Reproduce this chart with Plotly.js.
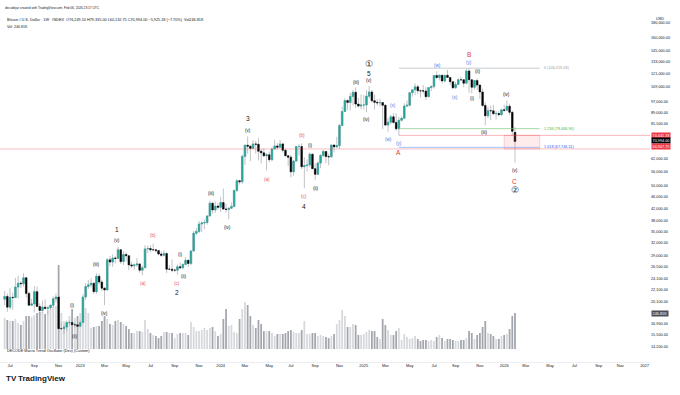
<!DOCTYPE html>
<html><head><meta charset="utf-8">
<script src="https://cdn.plot.ly/plotly-3.0.1.min.js"></script>
<style>html,body{margin:0;padding:0;background:#fff}#chart{width:680px;height:395px}</style>
</head><body><div id="chart"></div>
<script>
// ---------- DATA (prices in thousands USD, weekly bars starting Monday 2022-06-20) ----------
const startWeek = '2022-06-20';
const openK = [
 20.55,21.0,19.3,20.85,20.8,22.6,23.3,23.2,24.3,21.5,19.6,19.8,21.8,19.4,18.8,19.3,19.1,19.2,19.6,20.6,20.9,16.3,16.3,16.5,17.1,17.1,16.8,16.8,
 16.6,17.1,20.9,22.7,23.0,23.3,21.8,24.6,23.5,22.4,22.1,28.0,27.5,28.4,28.3,30.3,27.6,29.2,28.9,26.9,26.7,26.9,27.1,25.8,26.3,30.5,30.6,30.3,30.3,30.1,29.3,29.0,29.4,26.0,26.0,25.8,25.8,26.5,26.3,27.0,27.9,27.2,30.0,34.5,35.0,37.1,37.4,37.5,39.5,43.7,41.4,42.7,
 42.3,43.9,41.7,41.6,42.0,42.6,48.3,52.1,51.7,63.1,68.9,68.4,67.2,69.6,69.4,65.7,64.9,63.4,63.9,61.5,66.9,68.5,67.8,69.6,66.2,63.4,62.7,55.9,60.8,68.2,68.2,58.2,58.7,59.0,64.2,57.3,54.8,59.9,63.6,65.6,63.0,62.9,69.0,68.0,68.7,80.4,89.8,97.9,96.4,101.1,104.4,95.2,93.7,
 94.5,94.5,101.3,104.7,97.7,96.5,96.1,96.3,94.3,80.7,82.6,86.1,82.4,78.4,83.8,85.1,93.7,94.3,104.1,106.5,109.0,105.7,105.6,105.5,100.9,108.4,109.2,119.1,117.3,119.4,114.2,119.3,117.4,113.5,108.2,111.1,115.3,115.2,112.2,123.5,115.2,108.6,114.5,110.5,104.7,94.2,86.8,90.4,90.3,88.2,88.4,87.6,
 91.0,90.6,93.6,89.2,76.2491];
const highK = [
 21.9,21.5,22.4,21.6,24.3,24.7,23.7,25.2,24.5,21.8,20.6,22.8,22.7,19.9,20.3,20.5,19.5,19.7,21.0,21.5,21.1,17.2,16.8,17.4,17.4,18.4,17.0,16.9,
 17.4,21.4,23.3,23.9,24.2,23.4,25.2,25.1,23.9,22.6,28.4,28.9,29.2,28.8,31.0,30.5,30.0,29.8,28.9,27.6,27.2,28.4,27.3,26.8,31.4,31.3,31.4,31.8,30.4,30.3,29.9,30.2,29.7,26.8,28.1,26.1,27.0,27.4,27.2,28.6,28.0,30.2,35.2,35.9,38.0,37.9,38.4,39.8,44.5,43.9,44.3,43.6,
 45.9,49.0,43.5,42.2,43.9,48.5,52.8,52.5,64.0,69.2,73.8,68.9,71.7,71.3,72.8,66.9,67.3,64.7,65.5,67.7,71.9,70.0,71.9,70.2,66.9,63.8,63.8,61.3,68.4,69.4,70.0,62.7,61.6,65.0,64.5,59.8,60.7,64.1,66.5,65.7,64.5,69.4,69.5,73.6,81.5,93.4,99.6,98.7,104.0,106.5,108.4,99.9,102.7,
 102.3,106.2,109.4,106.4,102.5,98.8,99.5,96.5,95.0,85.3,87.5,88.8,88.5,86.1,86.5,95.8,97.9,104.3,106.7,112.0,110.7,106.8,110.6,108.9,108.5,110.5,119.5,123.2,120.2,119.8,119.4,124.5,117.6,113.6,113.4,116.8,117.9,115.4,125.7,126.2,115.9,113.9,116.4,111.2,107.5,96.6,93.1,94.1,94.6,90.3,90.0,91.0,
 94.8,97.9,95.5,90.5,79.335];
const lowK = [
 19.6,18.6,19.0,18.9,20.8,20.7,22.4,22.7,20.8,19.5,19.5,18.5,19.3,18.2,18.5,19.0,18.2,18.9,19.2,20.0,15.5,16.2,15.6,16.0,16.7,16.6,16.4,16.3,
 16.5,17.1,20.4,22.3,22.5,21.4,21.4,23.1,21.9,19.6,21.9,26.6,26.5,27.2,28.2,27.1,26.9,27.7,25.8,26.3,25.9,26.5,25.3,24.8,26.3,29.5,29.7,30.0,29.6,29.0,28.6,28.7,25.2,25.8,25.4,25.4,24.9,26.1,26.0,26.9,26.5,26.8,29.9,33.9,34.5,34.8,35.6,36.9,39.5,40.2,40.5,41.5,
 40.8,41.5,40.6,38.5,41.8,42.3,47.7,50.6,50.9,59.0,64.5,60.8,66.9,64.5,61.1,59.7,62.8,56.5,60.2,60.8,66.6,66.7,67.6,65.0,63.3,58.4,53.5,54.3,60.7,63.5,57.1,49.1,56.1,57.9,57.2,52.5,54.6,57.5,62.7,59.8,58.9,62.5,65.1,67.5,66.9,80.2,89.4,90.8,90.5,94.2,92.2,92.6,91.2,
 91.2,89.3,99.5,96.2,91.2,94.1,93.4,78.2,80.0,76.6,81.2,81.6,77.1,74.4,83.1,85.1,92.8,93.4,100.8,102.1,103.1,100.4,103.4,98.2,100.4,105.3,107.5,115.7,114.7,112.0,112.7,116.8,110.6,107.3,107.3,110.6,114.8,108.6,111.3,104.0,103.5,106.7,106.3,98.9,93.0,80.6,85.3,83.8,87.6,84.4,86.5,86.8,
 89.3,90.0,87.3,74.6,60.13275];
const closeK = [
 21.0,19.3,20.85,20.8,22.6,23.3,23.2,24.3,21.5,19.6,19.8,21.8,19.4,18.8,19.3,19.1,19.2,19.6,20.6,20.9,16.3,16.3,16.5,17.1,17.1,16.8,16.8,16.6,
 17.1,20.9,22.7,23.0,23.3,21.8,24.6,23.5,22.4,22.1,28.0,27.5,28.4,28.3,30.3,27.6,29.2,28.9,26.9,26.7,26.9,27.1,25.8,26.3,30.5,30.6,30.3,30.3,30.1,29.3,29.0,29.4,26.0,26.0,25.8,25.8,26.5,26.3,27.0,27.9,27.2,30.0,34.5,35.0,37.1,37.4,37.5,39.5,43.7,41.4,42.7,42.3,
 43.9,41.7,41.6,42.0,42.6,48.3,52.1,51.7,63.1,68.9,68.4,67.2,69.6,69.4,65.7,64.9,63.4,63.9,61.5,66.9,68.5,67.8,69.6,66.2,63.4,62.7,55.9,60.8,68.2,68.2,58.2,58.7,59.0,64.2,57.3,54.8,59.9,63.6,65.6,63.0,62.9,69.0,68.0,68.7,80.4,89.8,97.9,96.4,101.1,104.4,95.2,93.7,94.5,
 94.5,101.3,104.7,97.7,96.5,96.1,96.3,94.3,80.7,82.6,86.1,82.4,78.4,83.8,85.1,93.7,94.3,104.1,106.5,109.0,105.7,105.6,105.5,100.9,108.4,109.2,119.1,117.3,119.4,114.2,119.3,117.4,113.5,108.2,111.1,115.3,115.2,112.2,123.5,115.2,108.6,114.5,110.5,104.7,94.2,86.8,90.4,90.3,88.2,88.4,87.6,91.0,
 90.6,93.6,89.2,76.9,70.994];
const volumeK = [
 213,199,192,192,206,178,165,192,226,226,219,233,247,254,254,240,261,274,288,295,576,247,192,185,226,274,213,226,
 247,274,281,247,144,151,158,158,192,226,206,171,165,192,199,185,171,158,137,110,110,123,123,117,199,137,110,96,89,75,89,117,117,110,110,75,103,110,110,110,96,185,151,123,123,130,144,130,144,151,123,89,
 103,206,274,158,165,117,110,206,274,322,302,226,165,144,199,171,123,123,123,110,89,103,103,103,110,123,130,117,110,110,130,192,103,103,110,110,89,96,89,82,75,89,103,171,199,267,226,151,151,171,165,96,96,
 103,117,130,123,123,82,69,206,165,130,96,96,123,144,62,103,82,69,75,89,69,55,62,62,55,62,55,82,96,75,55,69,69,62,55,55,62,62,75,123,110,69,96,110,151,192,110,103,89,69,69,89,
 96,103,137,226,246.81];

// price-scale tick labels
const yTickVals = [180000,160000,145000,133000,121000,109000,97000,89000,81500,62000,56000,50000,46000,42000,38000,35000,32000,29000,26500,24100,22100,20100,16900,15500,14200];
// time-scale ticks
const xTickDates = ['2022-07-04','2022-09-05','2022-11-07','2023-01-02','2023-03-06','2023-05-01','2023-07-03','2023-09-04','2023-11-06','2024-01-01','2024-03-04','2024-05-06','2024-07-01','2024-09-02','2024-11-04','2025-01-06','2025-03-03','2025-05-05','2025-07-07','2025-09-01','2025-11-03','2026-01-05','2026-03-02','2026-05-04','2026-07-06','2026-09-07','2026-11-02','2027-01-04'];
const xTickText = ['Jul','Sep','Nov','2023','Mar','May','Jul','Sep','Nov','2024','Mar','May','Jul','Sep','Nov','2025','Mar','May','Jul','Sep','Nov','2026','Mar','May','Jul','Sep','Nov','2027'];

// Elliott wave labels: text, date, price (K), colour key
const waveText  = ['(i)','(ii)','(iii)','(iv)','(v)','1','(a)','(b)','(c)','2','(i)','(ii)','(iii)','(iv)','3','(v)','(a)','(b)','(i)','(c)','4','(ii)','(iii)','(iv)','①','5','(v)','(x)','(w)','(y)','A','(w)','(x)','B','(y)','(ii)','(i)','(iii)','(iv)','(v)','C','②'];
const waveDate  = ['2022-12-14','2022-12-19','2023-02-14','2023-03-07','2023-04-07','2023-04-07','2023-06-14','2023-07-10','2023-09-10','2023-09-10','2023-09-18','2023-09-28','2023-12-07','2024-01-20','2024-03-12','2024-03-12','2024-04-30','2024-07-30','2024-08-20','2024-08-04','2024-08-04','2024-09-04','2024-12-17','2025-01-14','2025-01-20','2025-01-20','2025-01-20','2025-03-23','2025-03-10','2025-04-07','2025-04-07','2025-07-15','2025-08-31','2025-10-06','2025-10-06','2025-10-29','2025-10-16','2025-11-16','2026-01-12','2026-02-02','2026-02-02','2026-02-02'];
const wavePriceK= [19.5,15.3,26.9,18.4,32.7,35.4,23.3,33.8,23.3,21.6,29.1,24.5,47.3,36.2,84.7,77.6,52.8,74.1,69.0,45.9,42.4,49.2,113.2,84.0,130.4,121.5,115.0,93.8,72.3,69.6,65.3,129.4,100.6,140.0,131.5,122.5,99.8,75.9,103.0,56.3,52.0,48.5];
const waveColor = ['k','k','k','k','k','K','r','r','r','K','k','k','k','k','K','k','r','r','k','r','K','k','k','k','C','K','k','b','b','b','R','b','b','R','b','k','k','k','k','k','R','C'];

// Fibonacci / level drawings
const fibStart = '2025-04-07', fibEnd = '2026-04-07';
const fibLevels = [126219.03, 78466.90, 67746.11];
const fibLabels = ['0 (126,219.03)', '1.236 (78,466.90)', '1.618 (67,746.11)'];
const redLevels = [74441.33, 66907.75];
const zoneStart = '2026-01-05', zoneEnd = '2026-04-07';
const lastClose = 70994.00;
const lastVolumeK = 246.81;

// ---------- BUILD ----------
function addDays(iso, n){ const d = new Date(iso + 'T00:00:00Z'); d.setUTCDate(d.getUTCDate() + n); return d.toISOString().slice(0,10); }
const dates = closeK.map((_, i) => addDays(startWeek, 7 * i));
const O = openK.map(v => v*1000), H = highK.map(v => v*1000), L = lowK.map(v => v*1000), C = closeK.map(v => v*1000);
const bodyHi = O.map((o, i) => Math.max(o, C[i])), bodyLo = O.map((o, i) => Math.min(o, C[i]));
const fmt = v => v.toLocaleString('en-US', {minimumFractionDigits:2, maximumFractionDigits:2});

const UP = '#26a69a', DOWN = '#000000', WICK = '#a5a8b0';
const FONT = 'Liberation Sans, Arial, sans-serif';

const traces = [];
traces.push({type:'bar', x:dates, y:volumeK, yaxis:'y', width:4.6*86400000,
  marker:{color: C.map((c,i)=> c>=O[i] ? '#d6d8dc' : '#a3a6ad'), line:{width:0}}, hoverinfo:'skip'});
traces.push({type:'candlestick', x:dates, open:O, high:H, low:L, close:C, yaxis:'y2',
  increasing:{line:{color:WICK, width:0.7}, fillcolor:WICK}, decreasing:{line:{color:WICK, width:0.7}, fillcolor:WICK},
  whiskerwidth:0, hoverinfo:'skip'});
traces.push({type:'candlestick', x:dates, open:O, high:bodyHi, low:bodyLo, close:C, yaxis:'y2',
  increasing:{line:{color:UP, width:0.4}, fillcolor:UP}, decreasing:{line:{color:DOWN, width:0.4}, fillcolor:DOWN},
  whiskerwidth:0, hoverinfo:'skip'});

// zone rectangle
traces.push({type:'scatter', mode:'lines', yaxis:'y2', x:[zoneStart, zoneEnd, zoneEnd, zoneStart, zoneStart],
  y:[redLevels[0], redLevels[0], redLevels[1], redLevels[1], redLevels[0]], fill:'toself',
  fillcolor:'rgba(242,54,69,0.10)', line:{color:'rgba(242,54,69,0.35)', width:0.6}, hoverinfo:'skip'});
// red levels
traces.push({type:'scatter', mode:'lines', yaxis:'y2', x:[fibStart, '2027-06-01'], y:[redLevels[0], redLevels[0]],
  line:{color:'rgba(242,54,69,0.55)', width:0.7}, hoverinfo:'skip'});
traces.push({type:'scatter', mode:'lines', yaxis:'y2', x:['2022-01-01', '2027-06-01'], y:[redLevels[1], redLevels[1]],
  line:{color:'rgba(242,54,69,0.45)', width:0.7}, hoverinfo:'skip'});
// fib lines
const fibColors = ['#b2b5be', '#81c784', '#7aa7f0'];
const fibTextColors = ['#9598a1', '#4caf50', '#2962ff'];
fibLevels.forEach((lv, k) => traces.push({type:'scatter', mode:'lines', yaxis:'y2', x:[fibStart, fibEnd], y:[lv, lv],
  line:{color:fibColors[k], width:0.7}, hoverinfo:'skip'}));

const ann = [];
const colMap = {k:'#131722', K:'#131722', r:'#e0566b', R:'#e53935', b:'#3f7be8', C:'#131722'};
const sizeMap = {k:4.6, K:6.5, r:4.6, R:6.5, b:4.6, C:9};
waveText.forEach((t, i) => {
  const c = waveColor[i];
  ann.push({xref:'x', yref:'y2', x:waveDate[i], y:Math.log10(wavePriceK[i]*1000), text:t, showarrow:false,
    font:{family:FONT, size:sizeMap[c], color:colMap[c]}});
});
fibLabels.forEach((t, k) => ann.push({xref:'x', yref:'y2', x:addDays(fibEnd, 5), y:Math.log10(fibLevels[k]), text:t, showarrow:false,
  xanchor:'left', font:{family:FONT, size:3.8, color:fibTextColors[k]}}));

// right-axis value tags
function tag(price, text, bg, yshift){ ann.push({xref:'paper', yref:'y2', x:1, y:Math.log10(price), xanchor:'left', xshift:1, yshift:yshift,
  text:text, showarrow:false, bgcolor:bg, borderpad:0.6, font:{family:FONT, size:3.8, color:'#ffffff'}}); }
tag(redLevels[0], fmt(redLevels[0]), '#f23645', 0);
tag(lastClose, fmt(lastClose), '#000000', 1);
tag(redLevels[1], fmt(redLevels[1]), '#f23645', 2.5);
ann.push({xref:'paper', yref:'y', x:1, y:lastVolumeK, xanchor:'left', xshift:1, text:lastVolumeK.toFixed(2)+'K', showarrow:false,
  bgcolor:'#4a4d55', borderpad:0.6, font:{family:FONT, size:3.8, color:'#ffffff'}});

// header / footer texts (paper positions)
const P = (px, py) => ({x: px/650, y: (362-py)/354});
ann.push(Object.assign({xref:'paper', yref:'paper', xanchor:'left', showarrow:false, text:'decodejar created with TradingView.com, Feb 06, 2026 23:17 UTC',
  font:{family:FONT, size:3.2, color:'#131722'}}, P(3, 4)));
ann.push(Object.assign({xref:'paper', yref:'paper', xanchor:'left', showarrow:false,
  text:'Bitcoin / U.S. Dollar · 1W · INDEX  O76,249.10 H79,335.00 L60,132.75 C70,994.00 −5,925.18 (−7.70%)  Vol246.81K',
  font:{family:FONT, size:3.8, color:'#131722'}}, P(5, 16)));
ann.push(Object.assign({xref:'paper', yref:'paper', xanchor:'left', showarrow:false, text:'Vol  246.81K',
  font:{family:FONT, size:3.6, color:'#131722'}}, P(5, 22.5)));
ann.push(Object.assign({xref:'paper', yref:'paper', xanchor:'left', showarrow:false, text:'USD',
  font:{family:FONT, size:3.8, color:'#131722'}}, P(654, 15)));
ann.push(Object.assign({xref:'paper', yref:'paper', xanchor:'left', showarrow:false, text:'DECODE Macro Trend Oscillator (Dev) (Custom)',
  font:{family:FONT, size:3.8, color:'#131722'}}, P(5, 355)));
ann.push(Object.assign({xref:'paper', yref:'paper', xanchor:'left', showarrow:false, text:'<b>TV</b>',
  font:{family:FONT, size:8, color:'#131722'}}, P(4, 385)));
ann.push(Object.assign({xref:'paper', yref:'paper', xanchor:'left', showarrow:false, text:'<b>TradingView</b>',
  font:{family:FONT, size:8, color:'#131722'}}, P(16, 385)));

const layout = {
  width:680, height:395, margin:{l:0, r:30, t:8, b:33},
  paper_bgcolor:'#ffffff', plot_bgcolor:'#ffffff', showlegend:false,
  boxgap:0.42, boxgroupgap:0,
  font:{family:FONT, color:'#131722'},
  xaxis:{type:'date', range:['2022-06-08','2027-01-18'], tickmode:'array', tickvals:xTickDates, ticktext:xTickText,
    tickfont:{size:4, color:'#131722'}, showgrid:false, zeroline:false, showline:true, linecolor:'#e0e3eb', linewidth:0.6,
    ticks:'', rangeslider:{visible:false}, fixedrange:true},
  yaxis:{range:[-89, 2338], visible:false, fixedrange:true},
  yaxis2:{type:'log', overlaying:'y', side:'right', range:[4.0983, 5.3065], tickmode:'array', tickvals:yTickVals,
    ticktext:yTickVals.map(fmt), tickfont:{size:3.8, color:'#131722'}, showgrid:false, zeroline:false, showline:false, ticks:'', fixedrange:true},
  annotations:ann
};
Plotly.newPlot('chart', traces, layout, {staticPlot:true, displayModeBar:false});
</script>
</body></html>
